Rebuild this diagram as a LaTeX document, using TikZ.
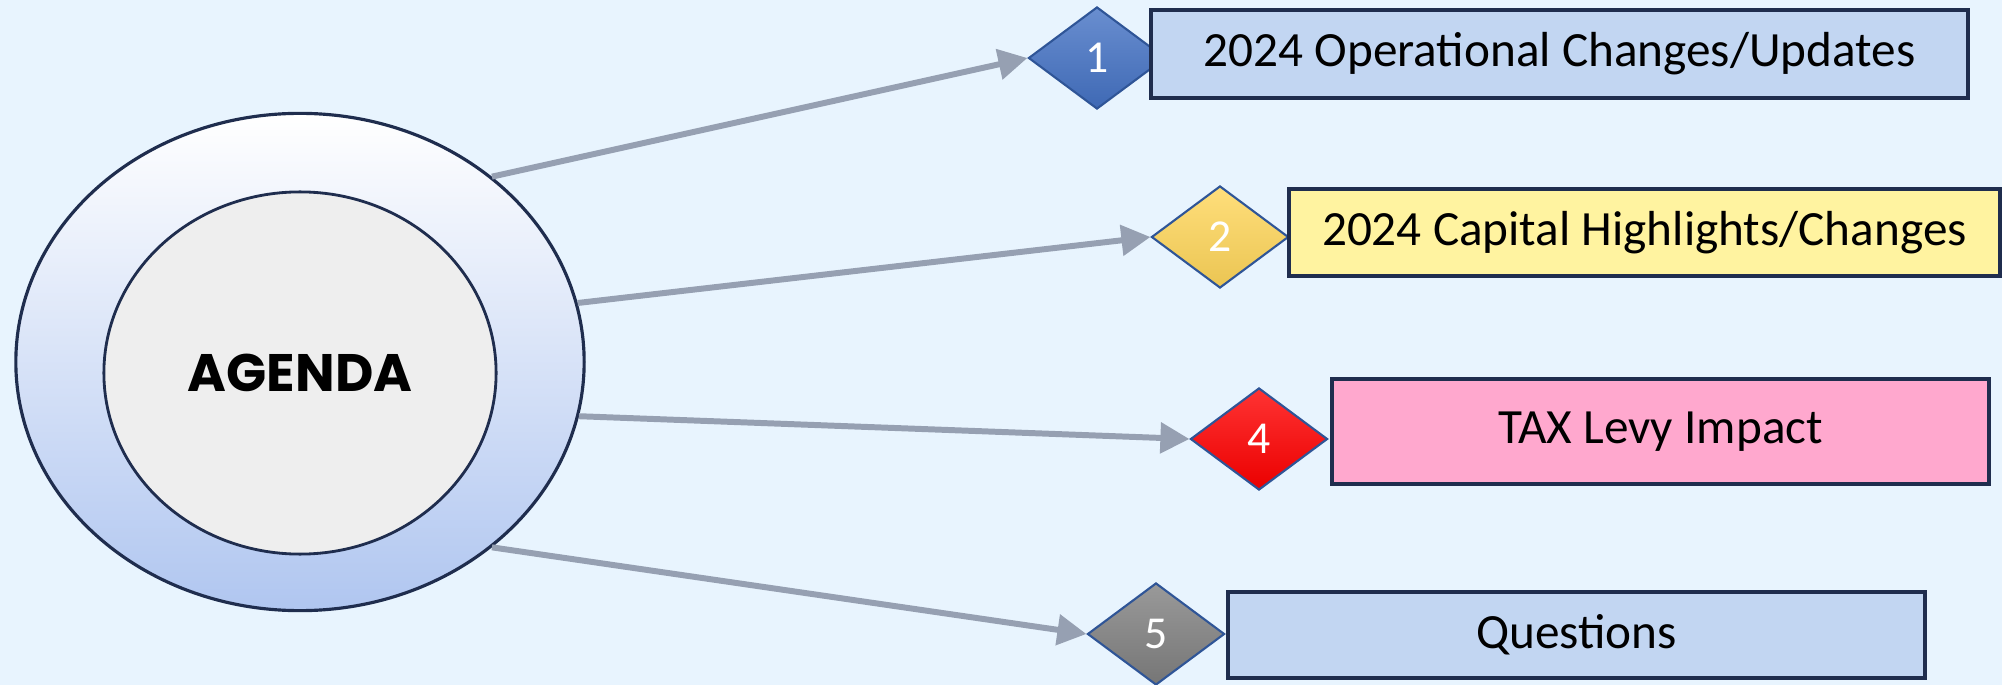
\documentclass[tikz,border=0pt]{standalone}
\usepackage{fontspec}
\setmainfont{Carlito}
\newfontfamily\agendafont{Poppins}
\usetikzlibrary{shapes.geometric,arrows.meta}
\definecolor{bgblue}{RGB}{232,244,254}
\definecolor{navy}{RGB}{31,45,78}
\definecolor{ringblue}{RGB}{176,198,240}
\definecolor{innergray}{RGB}{238,238,238}
\definecolor{arrowgray}{RGB}{150,160,178}
\definecolor{boxblue}{RGB}{194,214,242}
\definecolor{boxyellow}{RGB}{255,243,160}
\definecolor{boxpink}{RGB}{255,168,206}
\definecolor{dblue}{RGB}{68,114,196}
\definecolor{dyellow}{RGB}{255,214,90}
\definecolor{dred}{RGB}{255,0,0}
\definecolor{dgray}{RGB}{128,128,128}
\definecolor{dedge}{RGB}{47,85,151}

\begin{document}
\begin{tikzpicture}[x=0.01cm,y=-0.01cm,
	itembox/.style={rectangle,draw=navy,line width=1.1pt,inner sep=0pt,fill=#1,font=\fontsize{14}{16}\selectfont},
	numdiamond/.style={diamond,draw=dedge,line width=0.6pt,inner sep=0pt,minimum width=1.37cm,minimum height=1.02cm,
		top color=#1!80!white,bottom color=#1!92!black,text=white,font=\fontsize{13}{15}\selectfont},
	pointer/.style={draw=arrowgray,line width=1.7pt,-{Triangle[length=2.9mm,width=3mm]}}]
			\useasboundingbox (0,0) rectangle (2002,685);
			\fill[bgblue] (0,0) rectangle (2002,685);

			% agenda rings
			\node[ellipse,draw=navy,line width=0.9pt,inner sep=0pt,minimum width=5.68cm,minimum height=4.97cm,
				top color=white,middle color=ringblue!45!white,bottom color=ringblue] (ring) at (300,362) {};
			\node[ellipse,draw=navy,line width=0.8pt,inner sep=0pt,minimum width=3.92cm,minimum height=3.62cm,
				fill=innergray] (agenda) at (300,373) {\agendafont\bfseries\fontsize{15}{18}\selectfont AGENDA};

			% numbers
			\node[numdiamond=dblue]   (d1) at (1097,58)  {1};
			\node[numdiamond=dyellow] (d2) at (1220,237) {2};
			\node[numdiamond=dred]    (d4) at (1259,439) {4};
			\node[numdiamond=dgray]   (d5) at (1156,634) {5};

			% items
			\node[itembox=boxblue,minimum width=8.17cm,minimum height=0.88cm]   (b1) at (1559.5,54)  {2024 Operational Changes/Updates};
			\node[itembox=boxyellow,minimum width=7.11cm,minimum height=0.87cm] (b2) at (1644.5,232.5) {2024 Capital Highlights/Changes};
			\node[itembox=boxpink,minimum width=6.57cm,minimum height=1.05cm]   (b4) at (1660.5,431.5) {TAX Levy Impact};
			\node[itembox=boxblue,minimum width=6.97cm,minimum height=0.86cm]   (b5) at (1576.5,635) {Questions};

			\draw[pointer] (ring.44) -- (d1.west);
			\draw[pointer] (ring.12) -- (d2.west);
			\draw[pointer] (ring.-11.5) -- (d4.west);
			\draw[pointer] (ring.-44) -- (d5.west);
\end{tikzpicture}
\end{document}
